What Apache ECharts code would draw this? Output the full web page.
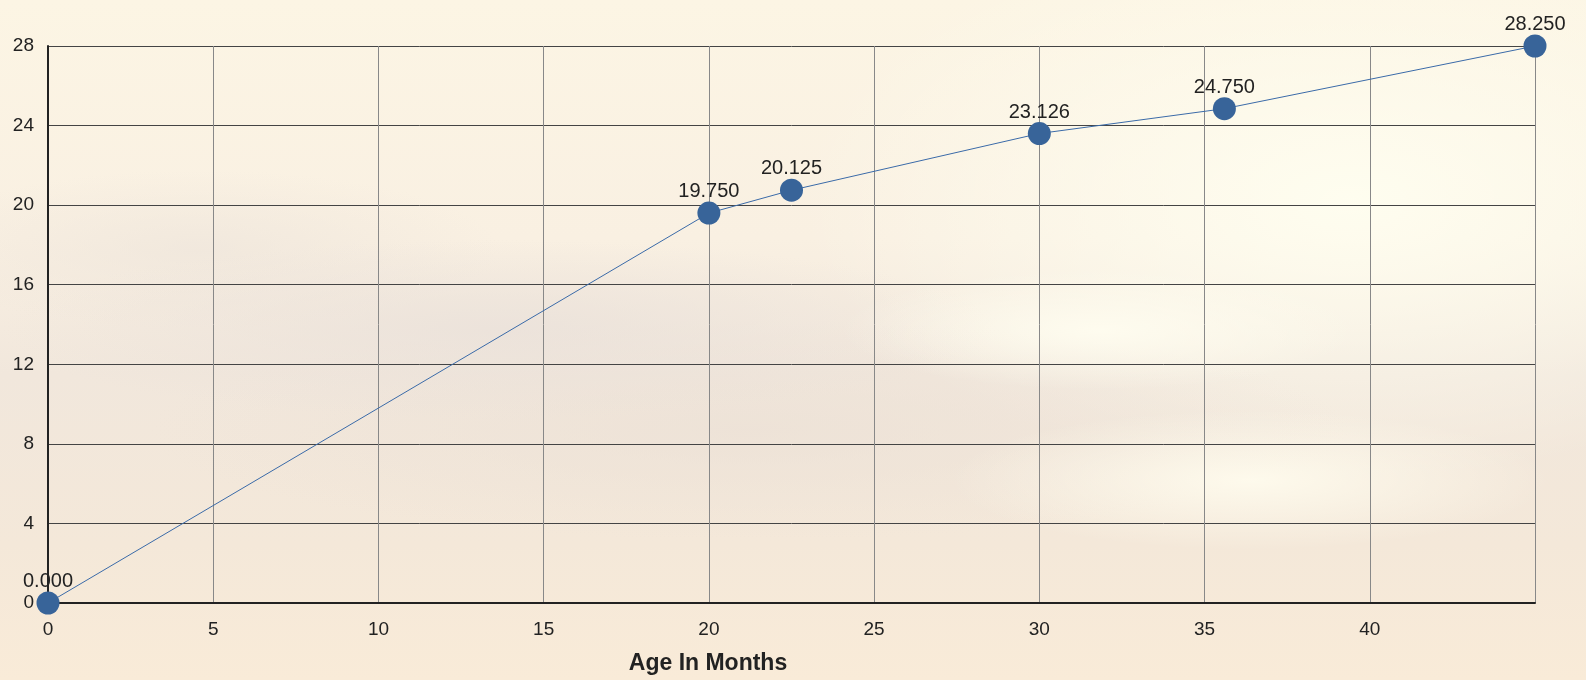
<!DOCTYPE html>
<html>
<head>
<meta charset="utf-8">
<script src="https://cdn.jsdelivr.net/npm/echarts@6/dist/echarts.min.js"></script>
<style>
html,body{margin:0;padding:0;width:1586px;height:680px;overflow:hidden;}
body{
background:
radial-gradient(ellipse 260px 60px at 1100px 330px, rgba(255,253,240,0.9), rgba(255,253,240,0) 100%),
radial-gradient(ellipse 300px 70px at 1250px 480px, rgba(255,252,238,0.9), rgba(255,252,238,0) 100%),
radial-gradient(ellipse 500px 90px at 500px 330px, rgba(234,225,218,0.8), rgba(234,225,218,0) 100%),
radial-gradient(ellipse 600px 110px at 750px 430px, rgba(236,225,214,0.75), rgba(236,225,214,0) 100%),
radial-gradient(ellipse 300px 80px at 200px 250px, rgba(238,229,219,0.7), rgba(238,229,219,0) 100%),
radial-gradient(ellipse 550px 280px at 1350px 200px, rgba(255,254,240,0.95), rgba(255,254,240,0) 100%),
linear-gradient(to bottom, #fcf5e4 0%, #f9f0e2 35%, #f1e7dc 55%, #f4e8d9 80%, #f9ebd8 100%);
}
#chart{width:1586px;height:680px;}
</style>
</head>
<body>
<div id="chart"></div>
<script>
const ageMonths = [0, 20, 22.5, 30, 35.6, 45];
const weightValues = [0, 19.6, 20.75, 23.6, 24.85, 28];
const pointLabels = ['0.000', '19.750', '20.125', '23.126', '24.750', '28.250'];
const xTicks = [0, 5, 10, 15, 20, 25, 30, 35, 40];
const yTicks = [0, 4, 8, 12, 16, 20, 24, 28];

const chart = echarts.init(document.getElementById('chart'));
const font = '"Liberation Sans", Arial, sans-serif';
chart.setOption({
  animation: false,
  backgroundColor: 'transparent',
  grid: {left: 48, right: 51, top: 46, bottom: 75, containLabel: false},
  xAxis: {
    type: 'value', min: 0, max: 45, interval: 5,
    name: 'Age In Months', nameLocation: 'middle', nameGap: 49,
    nameTextStyle: {fontFamily: font, fontSize: 23, fontWeight: 'bold', color: '#222', padding: [0, 167, 0, 0]},
    axisLine: {show: true, onZero: false, lineStyle: {color: '#222', width: 2}},
    axisTick: {show: false},
    axisLabel: {fontFamily: font, fontSize: 19, color: '#222', margin: 17,
      formatter: v => xTicks.indexOf(v) >= 0 ? String(v) : ''},
    splitLine: {show: true, lineStyle: {color: '#888', width: 1}}
  },
  yAxis: {
    type: 'value', min: 0, max: 28, interval: 4,
    axisLine: {show: true, onZero: false, lineStyle: {color: '#222', width: 2}},
    axisTick: {show: false},
    axisLabel: {fontFamily: font, fontSize: 19, color: '#222', margin: 14,
      formatter: v => yTicks.indexOf(v) >= 0 ? String(v) : ''},
    splitLine: {show: true, lineStyle: {color: '#444', width: 1}}
  },
  series: [{
    type: 'line',
    data: ageMonths.map((x, i) => [x, weightValues[i]]),
    symbol: 'circle', symbolSize: 23,
    clip: false,
    itemStyle: {color: '#386499'},
    lineStyle: {color: '#3a6aa8', width: 1},
    label: {show: true, position: 'top', distance: 0, fontFamily: font, fontSize: 20, color: '#222',
      formatter: p => pointLabels[p.dataIndex]}
  }]
});
</script>
</body>
</html>
